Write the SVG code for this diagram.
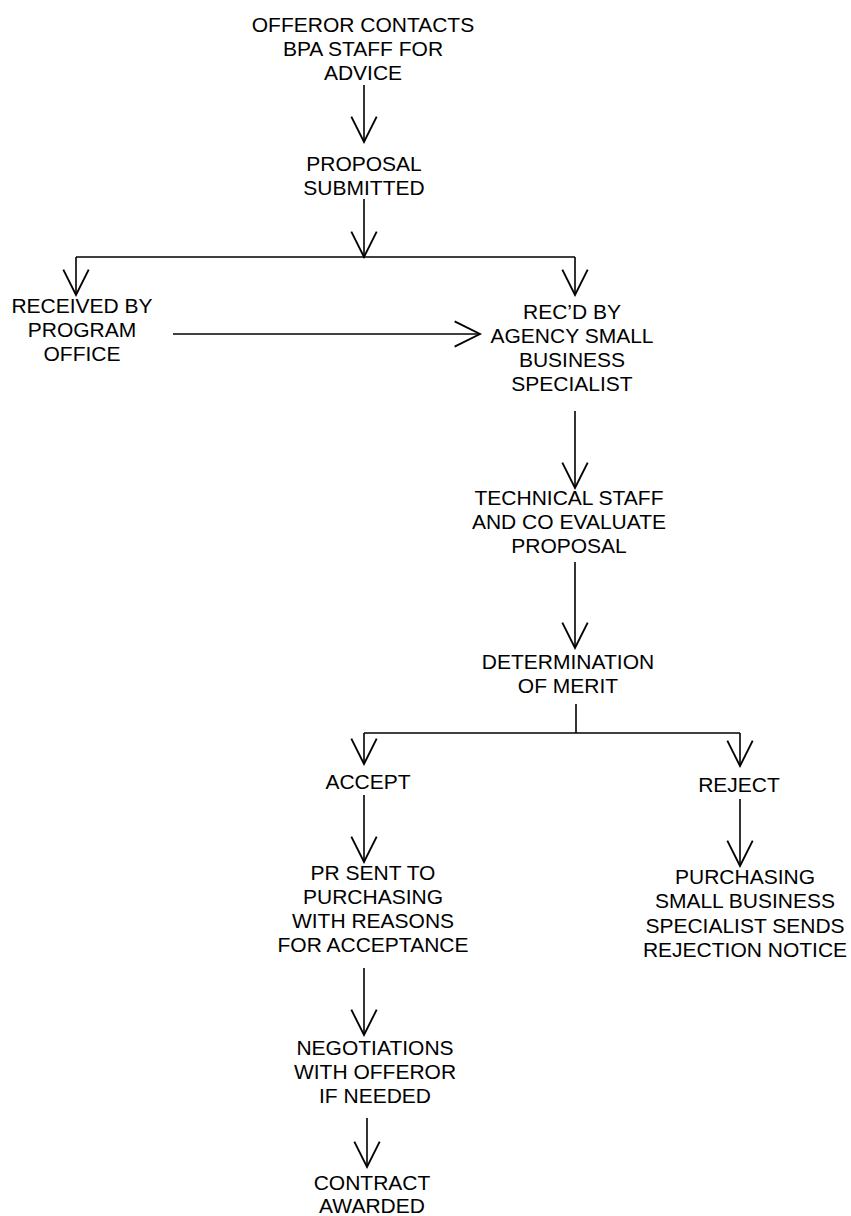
<svg xmlns="http://www.w3.org/2000/svg" width="851" height="1216" viewBox="0 0 851 1216">
<style>
text{font-family:"Liberation Sans",Arial,sans-serif;font-size:21px;fill:#000;text-anchor:middle}
.c line,.c path{stroke:#000;stroke-width:1.6;fill:none}
</style>
<defs>
<marker id="ah" markerUnits="userSpaceOnUse" markerWidth="30" markerHeight="30" viewBox="-24 -13 26 26" refX="0" refY="0" orient="auto" overflow="visible">
<path d="M-22,-11 L0,0 L-22,11" fill="none" stroke="#000" stroke-width="1.6"/>
</marker>
</defs>
<rect width="851" height="1216" fill="#fff"/>
<g class="c" id="connectors">
<line x1="364" y1="85" x2="364" y2="142" marker-end="url(#ah)"/>
<line x1="364" y1="199" x2="364" y2="257" marker-end="url(#ah)"/>
<line x1="76" y1="257" x2="575" y2="257"/>
<line x1="76" y1="257" x2="76" y2="295" marker-end="url(#ah)"/>
<line x1="575" y1="257" x2="575" y2="295" marker-end="url(#ah)"/>
<line x1="173" y1="334" x2="480" y2="334" marker-end="url(#ah)"/>
<line x1="575" y1="411" x2="575" y2="488" marker-end="url(#ah)"/>
<line x1="575" y1="562" x2="575" y2="648" marker-end="url(#ah)"/>
<line x1="576" y1="704" x2="576" y2="733"/>
<line x1="364" y1="733" x2="740" y2="733"/>
<line x1="364" y1="733" x2="364" y2="764" marker-end="url(#ah)"/>
<line x1="740" y1="733" x2="740" y2="766" marker-end="url(#ah)"/>
<line x1="364" y1="795" x2="364" y2="862" marker-end="url(#ah)"/>
<line x1="740" y1="799" x2="740" y2="866" marker-end="url(#ah)"/>
<line x1="364" y1="968" x2="364" y2="1035" marker-end="url(#ah)"/>
<line x1="367" y1="1118" x2="367" y2="1167" marker-end="url(#ah)"/>
</g>
<g id="n-offeror"><text x="363" y="32">OFFEROR CONTACTS</text><text x="363" y="56">BPA STAFF FOR</text><text x="363" y="80">ADVICE</text></g>
<g id="n-proposal"><text x="364" y="171">PROPOSAL</text><text x="364" y="195">SUBMITTED</text></g>
<g id="n-program"><text x="82" y="313">RECEIVED BY</text><text x="82" y="337">PROGRAM</text><text x="82" y="361">OFFICE</text></g>
<g id="n-agency"><text x="572" y="319">REC’D BY</text><text x="572" y="343">AGENCY SMALL</text><text x="572" y="367">BUSINESS</text><text x="572" y="391">SPECIALIST</text></g>
<g id="n-technical"><text x="569" y="505">TECHNICAL STAFF</text><text x="569" y="529">AND CO EVALUATE</text><text x="569" y="553">PROPOSAL</text></g>
<g id="n-merit"><text x="568" y="669">DETERMINATION</text><text x="568" y="693">OF MERIT</text></g>
<g id="n-accept"><text x="368" y="789">ACCEPT</text></g>
<g id="n-reject"><text x="739" y="792">REJECT</text></g>
<g id="n-pr"><text x="373" y="880">PR SENT TO</text><text x="373" y="904">PURCHASING</text><text x="373" y="928">WITH REASONS</text><text x="373" y="952">FOR ACCEPTANCE</text></g>
<g id="n-rejection"><text x="745" y="884">PURCHASING</text><text x="745" y="908">SMALL BUSINESS</text><text x="745" y="933">SPECIALIST SENDS</text><text x="745" y="957">REJECTION NOTICE</text></g>
<g id="n-negotiations"><text x="375" y="1055">NEGOTIATIONS</text><text x="375" y="1079">WITH OFFEROR</text><text x="375" y="1103">IF NEEDED</text></g>
<g id="n-contract"><text x="372" y="1190">CONTRACT</text><text x="372" y="1213">AWARDED</text></g>
</svg>
